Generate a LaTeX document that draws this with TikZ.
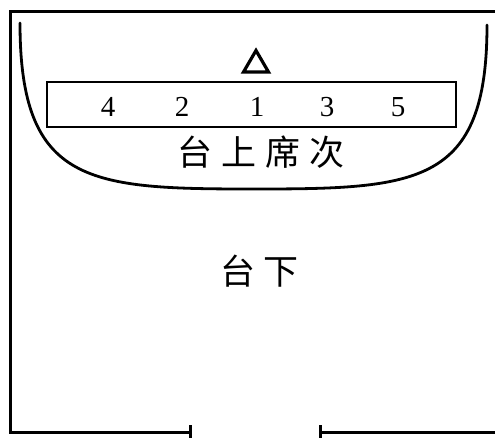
\documentclass[tikz,border=0pt]{standalone}
\usepackage{fontspec}
\setmainfont{Liberation Serif}
\newfontfamily\cjk{Noto Sans CJK SC}
\begin{document}
\begin{tikzpicture}[x=1pt,y=-1pt,
  wall/.style={line width=3pt,line cap=rect},
  thin/.style={line width=2.8pt},
  digit/.style={font=\fontsize{29}{29}\selectfont,inner sep=0pt},
  hanzi/.style={font=\cjk\fontsize{35}{35}\selectfont,inner sep=0pt}]
\useasboundingbox (0,0) rectangle (495,437);
% outer room with door gap
\coordinate (dl) at (190,432);
\coordinate (dr) at (320,432);
\draw[wall] (dl) -- (10,432) -- (10,11) -- (496,11);
\draw[wall] (dr) -- (496,432);
\draw[wall,line cap=butt] (190,425) -- (190,438);
\draw[wall,line cap=butt] (320,425) -- (320,438);
% stage curve
\draw[thin,line cap=round] (20,23) .. controls (20,185) and (90,189) .. (254,189)
  .. controls (418,189) and (487,185) .. (487,25);
% seat row
\node[draw,thin,minimum width=409pt,minimum height=45pt,inner sep=0pt] (row) at (251.5,104.5) {};
\node[digit] (s4) at (108,107) {4};
\node[digit] (s2) at (182,107) {2};
\node[digit] (s1) at (257,107) {1};
\node[digit] (s3) at (327,107) {3};
\node[digit] (s5) at (398,107) {5};
% triangle
\draw[line width=3.2pt,line join=miter] (243.5,72) -- (256,50.5) -- (268.5,72) -- cycle;
% labels
\node[hanzi] (tai) at (261,152) {台\hspace{9pt}上\hspace{9pt}席\hspace{9pt}次};
\node[hanzi] (xia) at (259.5,271) {台\hspace{9pt}下};
\end{tikzpicture}
\end{document}
